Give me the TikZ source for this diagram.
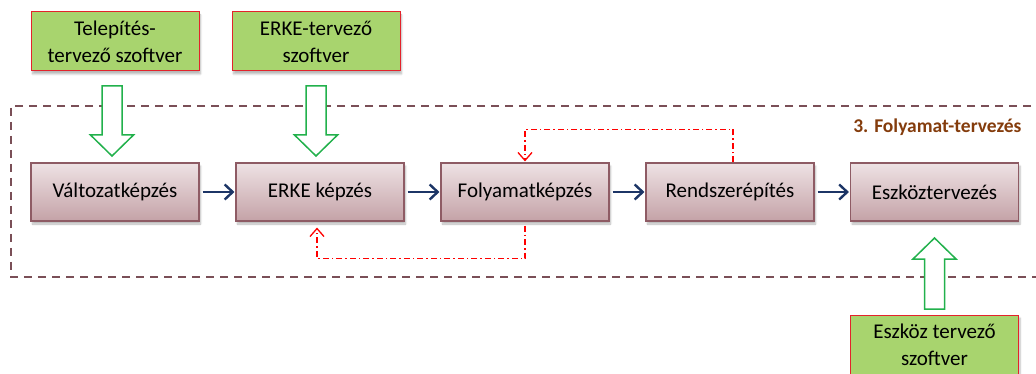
\documentclass[tikz,border=0pt]{standalone}
\usepackage{fontspec}
\setmainfont{Carlito}
\usetikzlibrary{arrows.meta,shadows.blur,calc}

\definecolor{procTop}{HTML}{EEE2E4}
\definecolor{procBot}{HTML}{C4A2A7}
\definecolor{procLine}{HTML}{8E5B64}
\definecolor{toolFill}{HTML}{A8D46E}
\definecolor{toolLine}{HTML}{E3232B}
\definecolor{frameLine}{HTML}{7A4F57}
\definecolor{flowBlue}{HTML}{1C3566}
\definecolor{blockGreen}{HTML}{22B14C}
\definecolor{titleBrown}{HTML}{843C0C}

% outlined block arrow: centre x, shaft end y, head base y, tip y
\newcommand\hollowarrow[4]{%
  \draw[blockarrow] (#1-10,#2) -- (#1+10,#2) -- (#1+10,#3) -- (#1+21.5,#3)
    -- (#1,#4) -- (#1-21.5,#3) -- (#1-10,#3) -- cycle;}

\begin{document}
\begin{tikzpicture}[x=1pt,y=-1pt,
  txt/.style={font=\fontsize{21}{27}\selectfont, align=center, text=black},
  proc/.style={txt, draw=procLine, line width=1.1pt, top color=procTop,
    bottom color=procBot, minimum width=168pt, minimum height=58pt,
    inner sep=0pt, blur shadow={shadow xshift=1.5pt, shadow yshift=-3pt,
    shadow blur steps=6, shadow opacity=28}},
  tool/.style={txt, draw=toolLine, line width=1pt, fill=toolFill,
    minimum width=168pt, minimum height=59pt, inner sep=0pt,
    blur shadow={shadow xshift=1.5pt, shadow yshift=-3pt,
    shadow blur steps=6, shadow opacity=28}},
  flow/.style={draw=flowBlue, line width=2.4pt,
    -{Straight Barb[length=8pt,width=15pt,line width=2.4pt]},
    shorten <=3pt, shorten >=1pt},
  feedback/.style={draw=red, line width=1.3pt,
    dash pattern=on 6pt off 3pt on 1.5pt off 3pt,
    -{Straight Barb[length=8pt,width=14pt,line width=1.3pt]}},
  blockarrow/.style={draw=blockGreen, line width=1.5pt, fill=white},
  frame/.style={draw=frameLine, line width=2.2pt, dash pattern=on 8pt off 6pt}]

\useasboundingbox (0,0) rectangle (1036,374);

% process frame, open to the right
\draw[frame] (1045,106) -- (11,106) -- (11,277) -- (1045,277);
\node[anchor=east, font=\fontsize{19.5}{23}\selectfont\bfseries, text=titleBrown]
  (title) at (1025,127) {3. Folyamat-tervezés};

% process steps
\node[proc] (v) at (115,192) {Változatképzés};
\node[proc] (e) at (320,192) {ERKE képzés};
\node[proc] (f) at (525,192) {Folyamatképzés};
\node[proc] (r) at (730,192) {Rendszerépítés};
\node[proc] (k) at (934.5,192) {Eszköztervezés};

% software tools
\node[tool] (t1) at (115,41.5) {Telepítés-\\tervező szoftver};
\node[tool] (t2) at (316,41.5) {ERKE-tervező\\szoftver};
\node[tool] (t3) at (934.5,344.5) {Eszköz tervező\\szoftver};

% main flow
\draw[flow] (v) -- (e);
\draw[flow] (e) -- (f);
\draw[flow] (f) -- (r);
\draw[flow] (r) -- (k);

% feedback loops
\draw[feedback, shorten <=4pt, shorten >=6pt]
  (f.south) -- ($(f.south)+(0,37)$) -| ($(e.south)+(-3,0)$);
\draw[feedback, shorten >=1pt]
  ($(r.north)+(3,0)$) -- ($(r.north)+(3,-33)$) -| (f.north);

% tool inputs
\hollowarrow{112}{86}{135}{156}
\hollowarrow{316}{86}{135}{156}
\hollowarrow{934.5}{309}{259}{238}
\end{tikzpicture}
\end{document}
